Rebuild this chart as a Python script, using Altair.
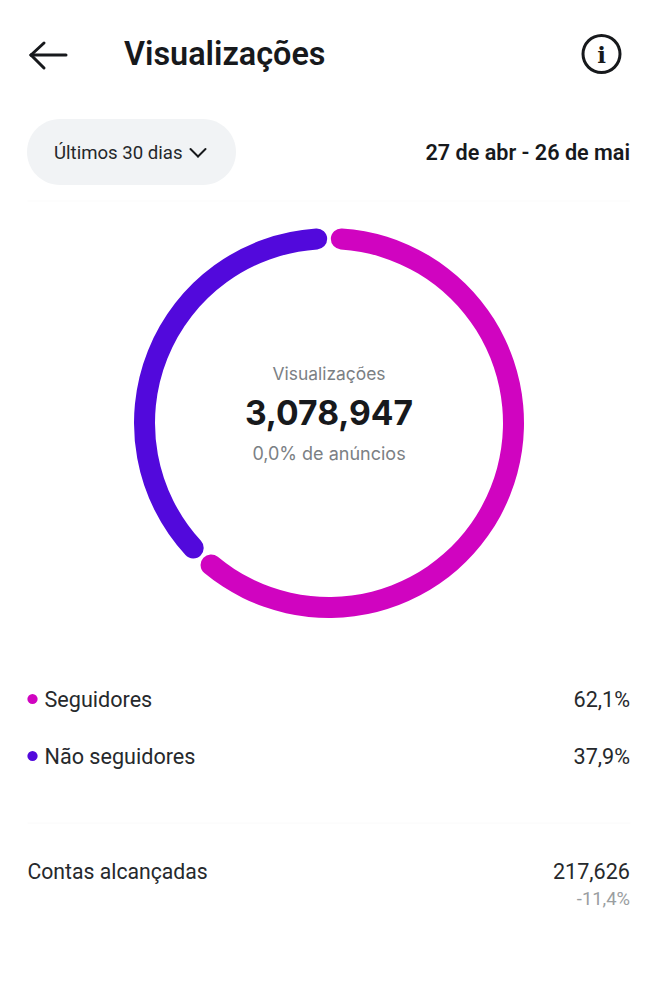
import altair as alt
import pandas as pd

# Chart values
segments = ["Seguidores", "Não seguidores"]
shares = [62.1, 37.9]
share_labels = ["62,1%", "37,9%"]
colors = ["#d004c0", "#5209dc"]

title = "Visualizações"
period = "Últimos 30 dias"
dates = "27 de abr - 26 de mai"
center_label = "Visualizações"
center_value = "3,078,947"
center_note = "0,0% de anúncios"
reach_label = "Contas alcançadas"
reach_value = "217,626"
reach_delta = "-11,4%"

INK = "#17191c"
GRAY = "#7b8084"
OFF = 8  # page margin


def X(v):
    return alt.value(v - OFF)


def Y(v):
    return alt.value(v - OFF)


dummy = alt.Data(values=[{"a": 1}])


def txt(s, x, y, size, color=INK, align="left", weight=400, font="Roboto"):
    return (
        alt.Chart(alt.Data(values=[{"t": s}]))
        .mark_text(align=align, baseline="middle", fontSize=size, color=color,
                   fontWeight=weight, font=font)
        .encode(x=X(x), y=Y(y), text=alt.Text("t:N"))
    )


def seg(x1, y1, x2, y2, width, color=INK):
    return (
        alt.Chart(dummy)
        .mark_rule(strokeWidth=width, color=color, strokeCap="round")
        .encode(x=X(x1), y=Y(y1), x2=X(x2), y2=Y(y2))
    )


df = pd.DataFrame({"segment": segments, "share": shares, "order": [0, 1]})
color_scale = alt.Scale(domain=segments, range=colors)

donut = (
    alt.Chart(df)
    .mark_arc(innerRadius=174, outerRadius=195, cornerRadius=10.5, padAngle=0.014)
    .encode(
        theta=alt.Theta("share:Q", stack=True),
        color=alt.Color("segment:N", scale=color_scale, legend=None),
        order=alt.Order("order:Q"),
        x=X(329),
        y=Y(423),
    )
)

pill = (
    alt.Chart(dummy)
    .mark_rect(color="#f1f3f5", cornerRadius=33)
    .encode(x=X(27), x2=X(236), y=Y(119), y2=Y(185))
)

info = (
    alt.Chart(dummy)
    .mark_arc(innerRadius=17, outerRadius=20, color=INK, theta=0, theta2=6.2832)
    .encode(x=X(601.5), y=Y(54))
)

layers = [
    pill,
    seg(28, 201, 630, 201, 1, "#fbfbfb"),
    seg(28, 823, 630, 823, 1, "#fafafa"),
    # back arrow
    seg(31, 55, 66, 55, 3),
    seg(31, 55, 44, 43, 3),
    seg(31, 55, 44, 68, 3),
    info,
    txt("i", 601.5, 55.5, 23, INK, "center", 700, "DejaVu Serif"),
    txt(title, 124, 54.5, 32.4, INK, "left", 600, "Roboto"),
    txt(period, 54, 153, 18.6, "#24272a", "left", 400),
    seg(190.5, 149, 198, 156.5, 2),
    seg(205.5, 149, 198, 156.5, 2),
    txt(dates, 630, 153.5, 21.6, INK, "right", 600),
    donut,
    txt(center_label, 329, 375, 17.4, GRAY, "center", 400, "Inter"),
    txt(center_value, 329, 415, 33.6, INK, "center", 700, "Inter"),
    txt(center_note, 329, 455, 18, GRAY, "center", 400, "Inter"),
]

rows_y = [700.5, 757.5]
for name, label, col, ry in zip(segments, share_labels, colors, rows_y):
    layers.append(
        alt.Chart(alt.Data(values=[{"s": name}]))
        .mark_circle(size=105, opacity=1, color=col)
        .encode(x=X(32.5), y=Y(ry - 1.5))
    )
    layers.append(txt(name, 44.5, ry, 21.6, "#26292c"))
    layers.append(txt(label, 630, ry, 21.6, "#26292c", "right"))

layers += [
    txt(reach_label, 27.5, 872.5, 21.2, "#26292c"),
    txt(reach_value, 630, 872.5, 21.6, "#26292c", "right"),
    txt(reach_delta, 630, 898.5, 18.4, "#9a9ea1", "right"),
]

chart = (
    alt.layer(*layers)
    .properties(width=641, height=984, padding=0, background="white")
    .configure_view(stroke=None)
)

chart.save("out.html", embed_options={"renderer": "svg", "actions": False})
